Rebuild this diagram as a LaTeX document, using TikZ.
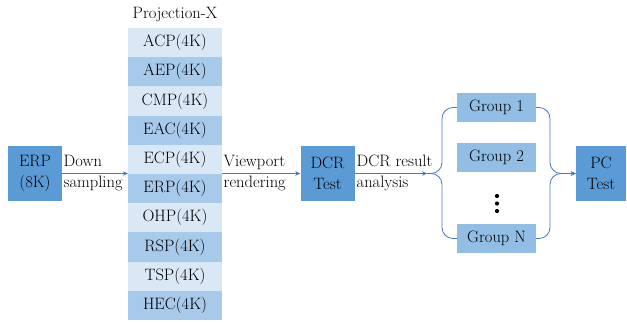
\documentclass[tikz,border=0pt]{standalone}
\usetikzlibrary{arrows.meta}
\definecolor{boxblue}{HTML}{5B9BD5}
\definecolor{grpblue}{HTML}{92BDE4}
\definecolor{rowdark}{HTML}{A7C9EA}
\definecolor{rowlight}{HTML}{DAE7F5}
\definecolor{linecol}{HTML}{4A74C8}
\begin{document}
\begin{tikzpicture}[x=1pt,y=-1pt,
  font=\fontsize{16.5}{21}\selectfont,
  mainbox/.style={fill=boxblue, minimum width=54pt, minimum height=55pt, align=center, inner sep=0pt},
  grpbox/.style={fill=grpblue, minimum width=79pt, minimum height=29pt, inner sep=0pt},
  rowbox/.style={minimum width=94pt, minimum height=29.2pt, inner sep=0pt},
  lbl/.style={align=left, anchor=west, inner sep=1.5pt},
  conn/.style={draw=linecol, line width=0.8pt},
  arr/.style={-{Stealth[length=5pt,width=4.5pt]}}]
\useasboundingbox (0,0) rectangle (627,322);

\node[mainbox] (erp8) at (35,173.5) {ERP\\(8K)};
\node[mainbox] (dcr) at (327.5,173.5) {DCR\\Test};
\node[mainbox, minimum width=50pt] (pc) at (601,173.5) {PC\\Test};

\node (title) at (175,15) {Projection-X};
\foreach \nm [count=\i from 0] in {ACP,AEP,CMP,EAC,ECP,ERP,OHP,RSP,TSP,HEC}{
  \pgfmathsetmacro{\yy}{28+29.2*(\i+0.5)}
  \pgfmathtruncatemacro{\odd}{mod(\i,2)}
  \ifnum\odd=0
    \node[rowbox, fill=rowlight] (r\i) at (175,\yy) {\nm(4K)};
  \else
    \node[rowbox, fill=rowdark] (r\i) at (175,\yy) {\nm(4K)};
  \fi
}

\node[grpbox] (g1) at (496.5,107.5) {Group 1};
\node[grpbox] (g2) at (496.5,157) {Group 2};
\node[grpbox] (gN) at (496.5,238.5) {Group N};
\fill (497,196) circle (2.1);
\fill (497,203.5) circle (2.1);
\fill (497,211) circle (2.1);

\coordinate (bp) at (427,173.5);
\coordinate (lb) at (442,173.5);
\coordinate (rb) at (550,173.5);

\draw[conn,arr] (erp8.east) -- (erp8.east -| r5.west);
\node[lbl] (ds) at (62,173) {Down\\sampling};
\draw[conn,arr] (r5.east |- dcr.west) -- (dcr.west);
\node[lbl] (vr) at (222,173) {Viewport\\rendering};
\draw[conn,arr] (dcr.east) -- (bp);
\node[lbl] (dra) at (355,173) {DCR result\\analysis};

\draw[conn, rounded corners=11pt] (bp) -- (lb) -- (lb |- g1.west) -- (g1.west);
\draw[conn, rounded corners=11pt] (bp) -- (lb) -- (lb |- gN.west) -- (gN.west);
\draw[conn, arr, rounded corners=11pt] (g1.east) -- (rb |- g1.east) -- (rb) -- (pc.west);
\draw[conn, arr, rounded corners=11pt] (gN.east) -- (rb |- gN.east) -- (rb) -- (pc.west);
\end{tikzpicture}
\end{document}
